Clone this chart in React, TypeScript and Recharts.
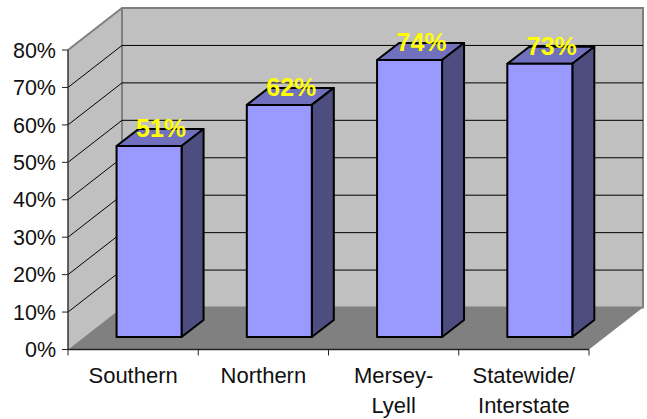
import { Bar, BarChart, CartesianGrid, LabelList, XAxis, YAxis } from 'recharts';

const categories = ['Southern', 'Northern', 'Mersey- Lyell', 'Statewide/ Interstate'];
const shares = [51, 62, 74, 73];
const yTicks = [0, 10, 20, 30, 40, 50, 60, 70, 80];

const data = categories.map((name, i) => ({ name, share: shares[i] }));

const FONT = '"Liberation Sans", Arial, sans-serif';
const TEXT = '#111111';
// depth of the box the chart sits in
const WALL_DX = 54;
const WALL_DY = 42;
// how far back the bars stand, and how deep they are
const BAR_DX = 16;
const BAR_DY = 12.5;
const BAR_DEPTH_X = 22;
const BAR_DEPTH_Y = 17;

function Box({ x, y, width, height }: any) {
  const left = x;
  const right = x + width;
  const top = y;
  const bottom = y + height;
  return (
    <g>
      <rect x={left + WALL_DX} y={top - WALL_DY} width={width} height={height} fill="#c0c0c0" />
      <polygon
        points={`${left},${top} ${left + WALL_DX},${top - WALL_DY} ${left + WALL_DX},${bottom - WALL_DY} ${left},${bottom}`}
        fill="#c0c0c0"
      />
      <polygon
        points={`${left},${bottom} ${left + WALL_DX},${bottom - WALL_DY} ${right + WALL_DX},${bottom - WALL_DY} ${right},${bottom}`}
        fill="#808080"
      />
      <path
        d={`M${left},${top} L${left + WALL_DX},${top - WALL_DY} H${right + WALL_DX} V${bottom - WALL_DY} H${left + WALL_DX} V${top - WALL_DY}`}
        fill="none"
        stroke="#808080"
        strokeWidth={2}
      />
    </g>
  );
}

// the grid draws first, so the box goes in with its first line
function GridLine({ x1, x2, y1, x, y, width, height, index }: any) {
  const isEdge = Math.abs(y1 - (y + height)) < 1 || Math.abs(y1 - y) < 1;
  return (
    <g key={index}>
      {index === 0 && <Box x={x} y={y} width={width} height={height} />}
      {!isEdge && (
        <path
          d={`M${x1},${y1} L${x1 + WALL_DX},${y1 - WALL_DY} H${x2 + WALL_DX}`}
          fill="none"
          stroke="#000000"
          strokeWidth={1}
        />
      )}
    </g>
  );
}

function Bar3D({ x, y, width, height }: any) {
  const fx = x + BAR_DX;
  const fy = y - BAR_DY;
  const dx = BAR_DEPTH_X;
  const dy = BAR_DEPTH_Y;
  const line = { stroke: '#000000', strokeWidth: 2, strokeLinejoin: 'round' as const };
  return (
    <g>
      <polygon
        points={`${fx},${fy} ${fx + dx},${fy - dy} ${fx + width + dx},${fy - dy} ${fx + width},${fy}`}
        fill="#7070bf"
        {...line}
      />
      <polygon
        points={`${fx + width},${fy} ${fx + width + dx},${fy - dy} ${fx + width + dx},${fy + height - dy} ${fx + width},${fy + height}`}
        fill="#4d4d80"
        {...line}
      />
      <rect x={fx} y={fy} width={width} height={height} fill="#9999ff" {...line} />
    </g>
  );
}

function ValueLabel({ x, y, width, value }: any) {
  return (
    <text
      x={x + width / 2 + BAR_DX + BAR_DEPTH_X / 2 + 1}
      y={y - BAR_DY - BAR_DEPTH_Y + 8}
      textAnchor="middle"
      fontFamily={FONT}
      fontSize={25}
      fontWeight="bold"
      fill="#ffff00"
    >
      {value}%
    </text>
  );
}

function CategoryTick({ x, y, payload, width, visibleTicksCount, index }: any) {
  const half = width / visibleTicksCount / 2;
  const lines = String(payload.value).split(' ');
  return (
    <g>
      <line x1={x - half} x2={x - half} y1={y - 8} y2={y - 2} stroke="#222222" />
      {index === visibleTicksCount - 1 && (
        <line x1={x + half} x2={x + half} y1={y - 8} y2={y - 2} stroke="#222222" />
      )}
      <text textAnchor="middle" fontFamily={FONT} fontSize={22} fill={TEXT}>
        {lines.map((line, i) => (
          <tspan key={line} x={x} y={y + 25 + i * 30}>
            {line}
          </tspan>
        ))}
      </text>
    </g>
  );
}

export default function App() {
  return (
    <div style={{ position: 'absolute', left: 0, top: 0, width: 647, height: 419, background: '#ffffff' }}>
      <BarChart
        width={647}
        height={419}
        data={data}
        margin={{ top: 50, right: 58, bottom: 0, left: 0 }}
        barCategoryGap="25%"
      >
        <CartesianGrid vertical={false} horizontal={GridLine} />
        <XAxis
          dataKey="name"
          height={69.5}
          interval={0}
          axisLine={{ stroke: '#222222', strokeWidth: 1.5 }}
          tickLine={false}
          tick={CategoryTick}
        />
        <YAxis
          width={68}
          domain={[0, 80]}
          ticks={yTicks}
          interval={0}
          tickFormatter={(v: number) => `${v}%`}
          axisLine={{ stroke: '#333333', strokeWidth: 1.5 }}
          tickLine={{ stroke: '#222222' }}
          tickSize={6}
          tickMargin={6}
          tick={{ fontFamily: FONT, fontSize: 21.5, fill: TEXT }}
        />
        <Bar dataKey="share" shape={Bar3D} isAnimationActive={false}>
          <LabelList dataKey="share" content={ValueLabel} />
        </Bar>
      </BarChart>
    </div>
  );
}
